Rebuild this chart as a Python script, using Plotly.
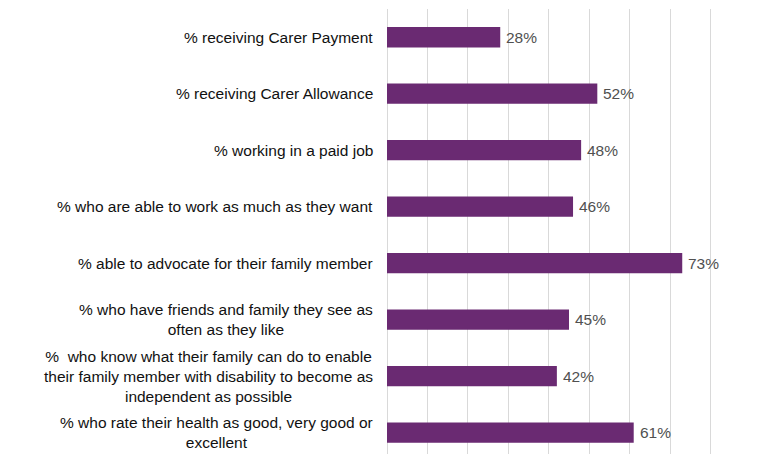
import plotly.graph_objects as go

categories = [
    "% receiving Carer Payment",
    "% receiving Carer Allowance",
    "% working in a paid job",
    "% who are able to work as much as they want",
    "% able to advocate for their family member",
    "% who have friends and family they see as<br>often as they like",
    "%  who know what their family can do to enable<br>their family member with disability to become as<br>independent as possible",
    "% who rate their health as good, very good or<br>excellent",
]
values = [0.28, 0.52, 0.48, 0.46, 0.73, 0.45, 0.42, 0.61]
value_labels = ["28%", "52%", "48%", "46%", "73%", "45%", "42%", "61%"]
x_ticks = [0, 0.1, 0.2, 0.3, 0.4, 0.5, 0.6, 0.7, 0.8, 0.9]

ids = list(range(len(categories)))
FONT = "Liberation Sans, Arial, sans-serif"

fig = go.Figure()
fig.add_trace(go.Bar(
    y=ids, x=values, orientation="h",
    marker=dict(color="#6a2a72", line=dict(width=0)),
    width=0.36,
    cliponaxis=False,
))

for i, c in zip(ids, categories):
    fig.add_annotation(
        x=0, xref="paper", xanchor="right", xshift=-12,
        y=i, yref="y", yanchor="middle",
        text=c, showarrow=False, align="center",
        font=dict(family=FONT, size=15.5, color="#111111"),
    )

for i, v, t in zip(ids, values, value_labels):
    fig.add_annotation(
        x=v, xref="x", xanchor="left", xshift=4,
        y=i, yref="y", yanchor="middle",
        text=t, showarrow=False,
        font=dict(family=FONT, size=15.5, color="#505050"),
    )

fig.update_layout(
    width=768, height=446,
    margin=dict(l=379, r=25, t=1, b=0),
    paper_bgcolor="white", plot_bgcolor="white",
    showlegend=False,
    xaxis=dict(range=[0, 0.9], tickvals=x_ticks, showticklabels=False,
               showgrid=True, gridcolor="#d9d9d9", gridwidth=1,
               zeroline=True, zerolinecolor="#d9d9d9", zerolinewidth=1,
               showline=False),
    yaxis=dict(range=[7.38, -0.5], showticklabels=False, showgrid=False,
               zeroline=False, showline=False, tickvals=ids),
)

fig.write_html("out.html")
